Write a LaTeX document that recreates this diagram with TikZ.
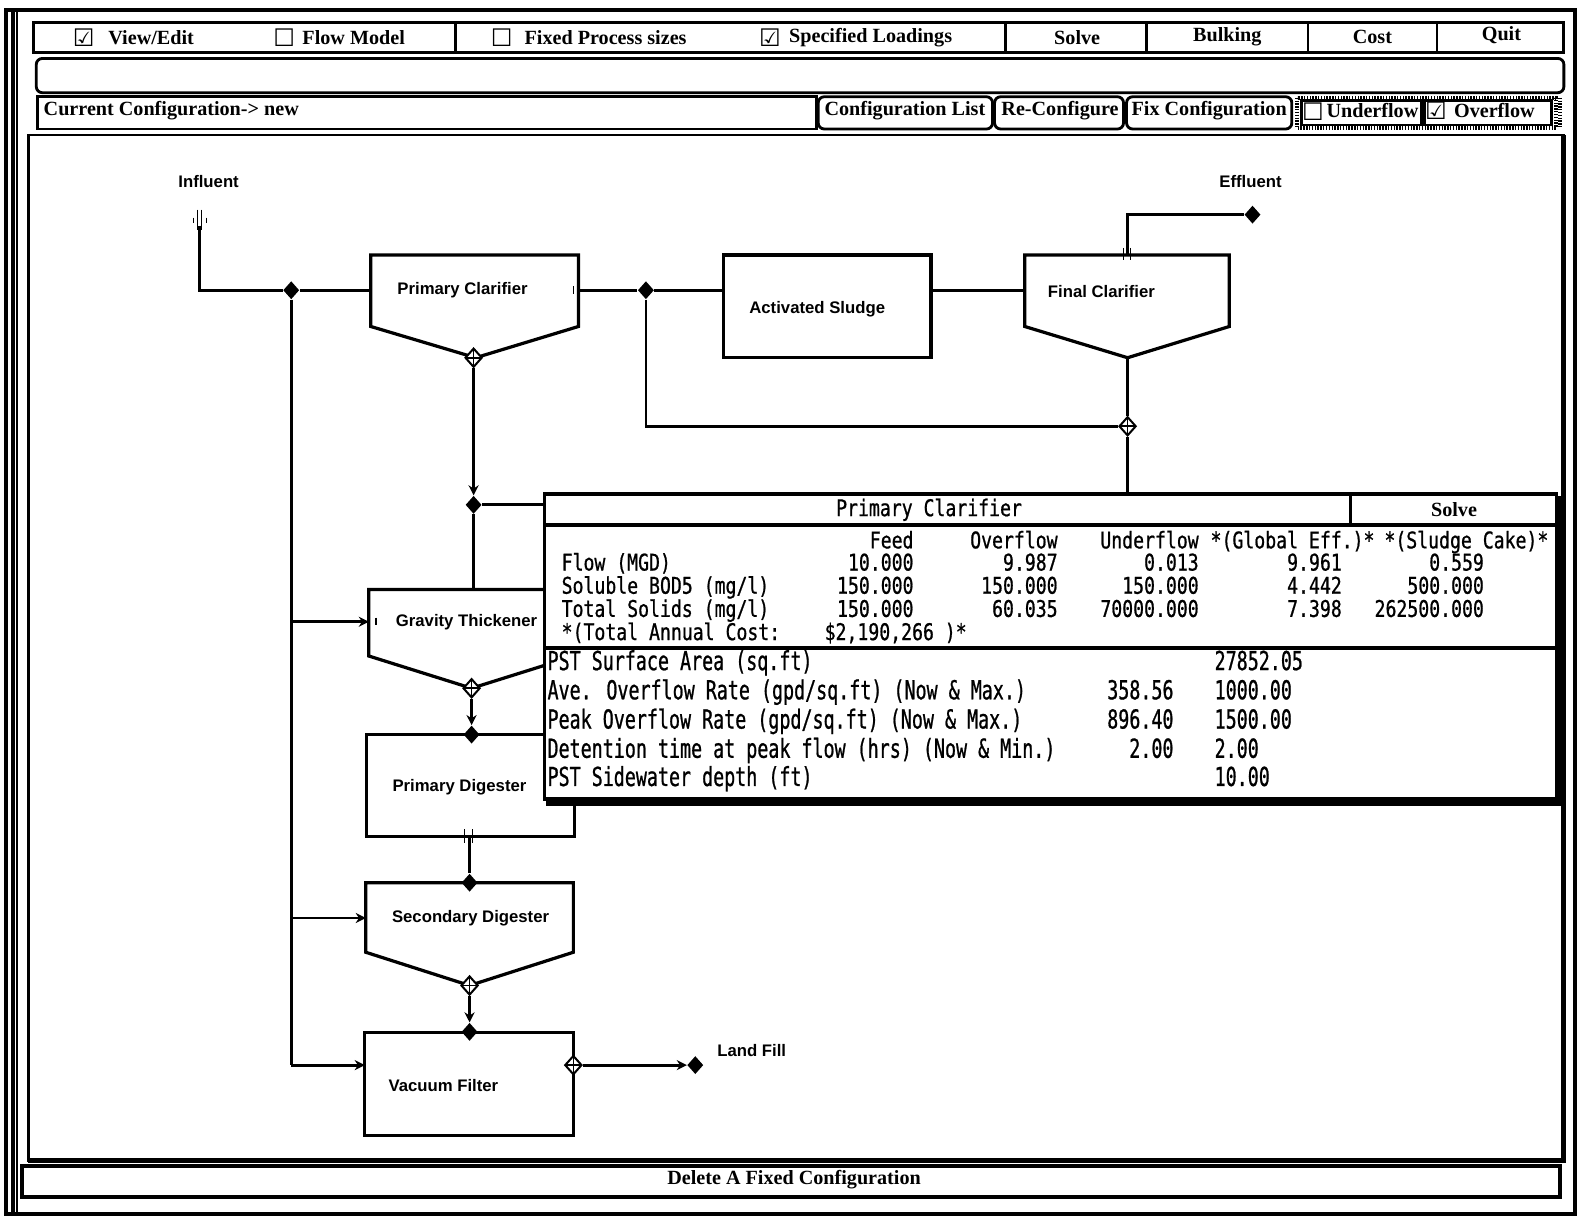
\documentclass[tikz,border=0pt]{standalone}
\usepackage{fontspec}
\setmainfont{Liberation Serif}
\newfontfamily\guifont{Liberation Serif}
\newfontfamily\flowfont{Liberation Sans}
\newfontfamily\tabfont[FakeStretch=0.79,FakeBold=0.8]{DejaVu Sans Mono}
\newfontfamily\tabfontl[FakeStretch=0.70,FakeBold=0.8]{DejaVu Sans Mono}
\newfontfamily\symfont{DejaVu Sans}
\usetikzlibrary{shapes.geometric,arrows.meta}
\tikzset{
  gui/.style={font=\guifont\bfseries\fontsize{10}{12}\selectfont, inner sep=0},
  flow/.style={font=\flowfont\bfseries\fontsize{8.3}{10}\selectfont, inner sep=0},
  tab/.style={font=\tabfont\fontsize{11.4}{13}\selectfont, inner sep=0, text height=8.2pt, text depth=2pt},
  tabl/.style={font=\tabfontl\fontsize{13}{15}\selectfont, inner sep=0, text height=9.5pt, text depth=2.5pt},
  chk/.style={font=\symfont\fontsize{12}{14}\selectfont, inner sep=0},
  pipe/.style={line width=1.4pt},
  unit/.style={line width=1.6pt, fill=white},
  frame/.style={line width=1.4pt},
  fdia/.style={diamond, fill=black, inner sep=0, minimum width=8pt, minimum height=9pt},
  odia/.style={diamond, draw, fill=white, line width=1pt, inner sep=0, minimum width=8.5pt, minimum height=9.5pt,
    path picture={\draw[line width=0.8pt] (path picture bounding box.north) -- (path picture bounding box.south)
      (path picture bounding box.west) -- (path picture bounding box.east);}},
  tip/.style={-{Stealth[length=5pt,width=5pt]}},
}
\begin{document}
\begin{tikzpicture}[x=0.5pt,y=-0.5pt]
\useasboundingbox (0,0) rectangle (1568,1207);
\fill[white] (0,0) rectangle (1568,1207);

% ---------- outer window frame ----------
\draw[line width=2pt] (6,10) rectangle (1563,1205);
\draw[line width=2pt] (13,12) -- (13,1203);
\draw[line width=1.2pt] (17,12) -- (17,1203);

% ---------- menu row ----------
\draw[frame] (33,22) rectangle (1552,52);
\foreach \xx in {452,998,1138,1298,1426} \draw[frame] (\xx,22) -- (\xx,52);
\node[chk] (c1) at (83,37) {☑};
\node[gui] (m1) at (150,37) {View/Edit};
\node[chk] (c2) at (282,37) {☐};
\node[gui] (m2) at (351,37) {Flow Model};
\node[chk] (c3) at (498,37) {☐};
\node[gui] (m3) at (601,37) {Fixed Process sizes};
\node[chk] (c4) at (764,37) {☑};
\node[gui] (m4) at (864,37) {Specified Loadings};
\node[gui] (m5) at (1069,37) {Solve};
\node[gui] (m6) at (1218,36) {Bulking};
\node[gui] (m7) at (1362,37) {Cost};
\node[gui] (m8) at (1490,35) {Quit};

% ---------- message row ----------
\draw[frame, rounded corners=3pt] (36,58) rectangle (1552,92);

% ---------- configuration row ----------
\draw[frame] (37,96) rectangle (810,128);
\node[gui, anchor=west] (cur) at (43,110) {Current Configuration-> new};
\draw[frame, rounded corners=3pt] (812,96) rectangle (985,128);
\node[gui] (b1) at (898,110) {Configuration List};
\draw[frame, rounded corners=3pt] (987,96) rectangle (1115,128);
\node[gui] (b2) at (1052,110) {Re-Configure};
\draw[frame, rounded corners=3pt] (1118,96) rectangle (1282,128);
\node[gui] (b3) at (1200,110) {Fix Configuration};
\draw[line width=2.2pt, dash pattern=on 0.7pt off 0.7pt] (1287,97) rectangle (1544,127);
\draw[frame] (1292,100) rectangle (1411,124);
\draw[frame] (1414,100) rectangle (1540,124);
\node[chk] (c5) at (1303,111) {☐};
\node[gui] (b4) at (1362,110) {Underflow};
\node[chk] (c6) at (1425,110) {☑};
\node[gui] (b5) at (1483,110) {Overflow};
\draw[line width=2.2pt, dash pattern=on 0.7pt off 0.7pt] (1548,97) -- (1548,127);

% ---------- canvas ----------
\draw[frame] (28,134) rectangle (1552,1152);
\draw[line width=2.4pt] (1552,134) -- (1552,1152) -- (28,1152);

% ---------- bottom bar ----------
\draw[line width=2pt] (22,1157) rectangle (1548,1188);
\node[gui] (del) at (788,1171) {Delete A Fixed Configuration};

% ---------- flowsheet ----------
\node[flow] (linf) at (207,180) {Influent};
\node[flow] (leff) at (1241,180) {Effluent};
\node[flow] (llf) at (746,1043) {Land Fill};

\draw[unit] (368,253) -- (574,253) -- (574,324) -- (472,355) -- (368,324) -- cycle;
\node[flow] (pc) at (459,288) {Primary Clarifier};
\draw[unit] (718,253) rectangle (924,355);
\node[flow] (as) at (811,307) {Activated Sludge};
\draw[unit] (1017,253) -- (1220,253) -- (1220,324) -- (1119,355) -- (1017,324) -- cycle;
\node[flow] (fc) at (1093,289) {Final Clarifier};
\draw[unit] (366,585) -- (570,585) -- (570,651) -- (468,683) -- (366,651) -- cycle;
\node[flow] (gt) at (463,617) {Gravity Thickener};
\draw[unit] (364,729) rectangle (570,830);
\node[flow] (pd) at (456,781) {Primary Digester};
\draw[unit] (363,876) -- (569,876) -- (569,945) -- (466,978) -- (363,945) -- cycle;
\node[flow] (sd) at (467,911) {Secondary Digester};
\draw[unit] (362,1025) rectangle (569,1127);
\node[flow] (vf) at (440,1077) {Vacuum Filter};

\coordinate (inf) at (198,224);
\coordinate (pcL) at (368,288);
\coordinate (pcR) at (574,288);
\coordinate (asL) at (718,288);
\coordinate (asR) at (924,288);
\coordinate (fcL) at (1017,288);
\coordinate (fcT) at (1119,253);
\coordinate (fcB) at (1119,355);
\coordinate (gtT) at (470,585);
\coordinate (gtL) at (366,617);
\coordinate (pdB) at (466,830);
\coordinate (sdL) at (363,911);
\coordinate (vfL) at (362,1057);
\coordinate (b1) at (289,617);
\coordinate (b2) at (289,911);
\coordinate (busB) at (289,1057);

\node[fdia] (j1) at (289,288) {};
\node[fdia] (j2) at (641,288) {};
\node[fdia] (eff) at (1243,213) {};
\node[odia] (j3) at (1119,423) {};
\node[odia] (pcU) at (470,355) {};
\node[fdia] (j4) at (470,501) {};
\node[odia] (gtU) at (468,683) {};
\node[fdia] (j5) at (468,729) {};
\node[fdia] (j6) at (466,876) {};
\node[odia] (sdU) at (466,978) {};
\node[fdia] (j7) at (466,1024) {};
\node[odia] (vfR) at (569,1057) {};
\node[fdia] (lf) at (690,1057) {};

\draw[pipe] (inf) |- (j1);
\draw[pipe] (j1) -- (pcL);
\draw[pipe] (j1) -- (busB);
\draw[pipe, tip] (b1) -- (gtL);
\draw[pipe, tip] (b2) -- (sdL);
\draw[pipe, tip] (busB) -- (vfL);
\draw[pipe] (pcR) -- (j2);
\draw[pipe] (j2) -- (asL);
\draw[pipe] (asR) -- (fcL);
\draw[pipe] (fcT) |- (eff);
\draw[pipe] (j2) |- (j3);
\draw[pipe] (fcB) -- (j3);
\draw[pipe] (j3) |- (j4);
\draw[pipe, tip] (pcU) -- (j4);
\draw[pipe] (j4) -- (gtT);
\draw[pipe, tip] (gtU) -- (j5);
\draw[pipe] (pdB) -- (j6);
\draw[pipe, tip] (sdU) -- (j7);
\draw[pipe, tip] (vfR) -- (lf);

\draw[line width=0.7pt] (192,216) -- (192,221) (196,208) -- (196,228) (200,208) -- (200,228) (205,216) -- (205,221);
\draw[line width=0.7pt] (569,284) -- (569,292);
\draw[line width=0.7pt] (1115,246) -- (1115,258) (1122,246) -- (1122,258);
\draw[line width=0.7pt] (461,823) -- (461,837) (469,823) -- (469,837);
\draw[line width=0.7pt] (373,613) -- (373,620);

% ---------- data panel ----------
\draw[line width=1.6pt, fill=white] (540,490) rectangle (1545,793);
\draw[line width=3pt] (1548,492) -- (1548,797) -- (542,797);
\draw[line width=2.2pt] (540,490) -- (1545,490);
\draw[line width=1.6pt] (540,521) -- (1545,521);
\draw[line width=1.6pt] (1340,490) -- (1340,521);
\draw[line width=1.6pt] (540,643) -- (1545,643);
\node[tab] (tt) at (922,506) {Primary Clarifier};
\node[gui] (ts) at (1443,506) {Solve};

\node[tab, anchor=east] (h1) at (907,538) {Feed};
\node[tab, anchor=east] (h2) at (1050,538) {Overflow};
\node[tab, anchor=east] (h3) at (1190,538) {Underflow};
\node[tab, anchor=west] (h4) at (1201,538) {*(Global Eff.)*};
\node[tab, anchor=east] (h5) at (1537,538) {*(Sludge Cake)*};

\node[tab, anchor=west] (r1) at (557,560) {Flow (MGD)};
\node[tab, anchor=east] (r1a) at (907,560) {10.000};
\node[tab, anchor=east] (r1b) at (1050,560) {9.987};
\node[tab, anchor=east] (r1c) at (1190,560) {0.013};
\node[tab, anchor=east] (r1d) at (1332,560) {9.961};
\node[tab, anchor=east] (r1e) at (1473,560) {0.559};

\node[tab, anchor=west] (r2) at (557,583) {Soluble BOD5 (mg/l)};
\node[tab, anchor=east] (r2a) at (907,583) {150.000};
\node[tab, anchor=east] (r2b) at (1050,583) {150.000};
\node[tab, anchor=east] (r2c) at (1190,583) {150.000};
\node[tab, anchor=east] (r2d) at (1332,583) {4.442};
\node[tab, anchor=east] (r2e) at (1473,583) {500.000};

\node[tab, anchor=west] (r3) at (557,606) {Total Solids (mg/l)};
\node[tab, anchor=east] (r3a) at (907,606) {150.000};
\node[tab, anchor=east] (r3b) at (1050,606) {60.035};
\node[tab, anchor=east] (r3c) at (1190,606) {70000.000};
\node[tab, anchor=east] (r3d) at (1332,606) {7.398};
\node[tab, anchor=east] (r3e) at (1473,606) {262500.000};

\node[tab, anchor=west] (r4) at (557,629) {*(Total Annual Cost:};
\node[tab, anchor=west] (r4a) at (818,629) {\$2,190,266 )*};

\node[tabl, anchor=west] (p1) at (543,658) {PST Surface Area (sq.ft)};
\node[tabl, anchor=west] (p1b) at (1205,658) {27852.05};
\node[tabl, anchor=west] (p2) at (543,687) {Ave. Overflow Rate (gpd/sq.ft) (Now \& Max.)};
\node[tabl, anchor=east] (p2a) at (1165,687) {358.56};
\node[tabl, anchor=west] (p2b) at (1205,687) {1000.00};
\node[tabl, anchor=west] (p3) at (543,716) {Peak Overflow Rate (gpd/sq.ft) (Now \& Max.)};
\node[tabl, anchor=east] (p3a) at (1165,716) {896.40};
\node[tabl, anchor=west] (p3b) at (1205,716) {1500.00};
\node[tabl, anchor=west] (p4) at (543,745) {Detention time at peak flow (hrs) (Now \& Min.)};
\node[tabl, anchor=east] (p4a) at (1165,745) {2.00};
\node[tabl, anchor=west] (p4b) at (1205,745) {2.00};
\node[tabl, anchor=west] (p5) at (543,773) {PST Sidewater depth (ft)};
\node[tabl, anchor=west] (p5b) at (1205,773) {10.00};
\end{tikzpicture}
\end{document}
